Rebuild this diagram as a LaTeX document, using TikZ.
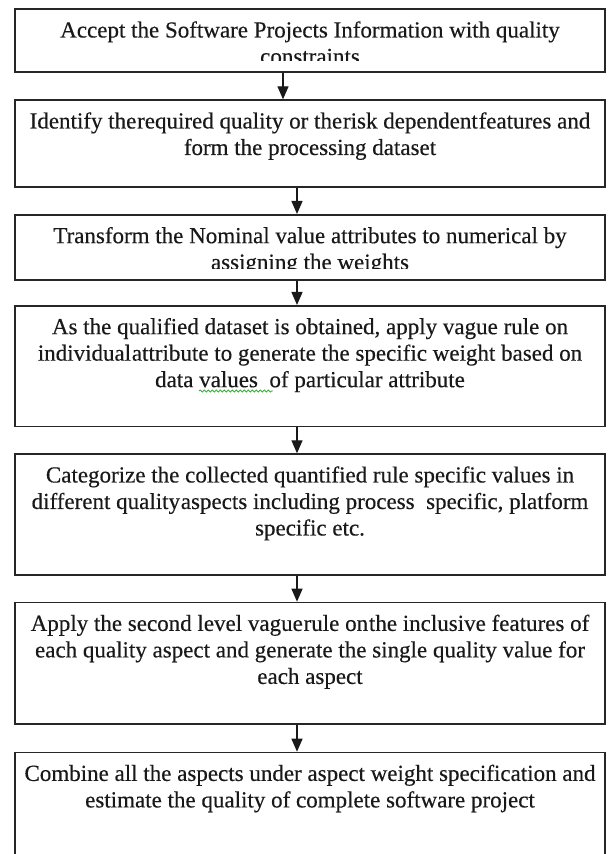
\documentclass[tikz,border=0pt]{standalone}
\usepackage{fontspec}
\setmainfont{Liberation Serif}[FakeBold=0.35]
\usetikzlibrary{arrows.meta,decorations.pathmorphing}
\newcommand{\tsp}{\hspace{0.8pt}}
\begin{document}
\begin{tikzpicture}[x=1pt,y=1pt,
  box/.style={draw=black!85, line width=1.6pt, minimum width=590pt, inner sep=0pt, anchor=north},
  txt/.style={inner sep=0pt, anchor=north, align=center, font=\fontsize{23}{26.5}\selectfont, text=black!90},
  arr/.style={draw=black!90, line width=1.3pt, -{Triangle[width=11pt,length=13pt]}},
  squig/.style={draw={rgb,255:red,60;green,175;blue,60}, line width=0.8pt,
    decorate, decoration={snake, segment length=4pt, amplitude=1.1pt}}
]
\clip (0,0) rectangle (611,854);
\fill[white] (0,0) rectangle (611,854);

% boxes
\node[box, minimum height=63pt]    (b1) at (310,845.7) {};
\node[box, minimum height=87.2pt]  (b2) at (310,754.7) {};
\node[box, minimum height=65pt]    (b3) at (310,640)   {};
\node[box, minimum height=120.7pt] (b4) at (310,549)   {};
\node[box, minimum height=120.7pt] (b5) at (310,400.7) {};
\node[box, minimum height=121.6pt] (b6) at (310,252.3) {};
\node[box, minimum height=140pt]   (b7) at (310,102.3) {};

% texts
\begin{scope}
  \clip ([yshift=-1pt]b1.north west) rectangle ([yshift=12pt]b1.south east);
  \node[txt] (t1) at ([yshift=-10.45pt]b1.north)
    {\strut Accept the Software Projects Information with quality\\ \strut constraints};
\end{scope}
\node[txt] (t2) at ([yshift=-10.45pt]b2.north)
  {\strut Identify the\tsp required quality or the\tsp risk dependent\tsp features\ and\\
   \strut form the processing dataset};
\begin{scope}
  \clip ([yshift=-1pt]b3.north west) rectangle ([yshift=12.3pt]b3.south east);
  \node[txt] (t3) at ([yshift=-10.45pt]b3.north)
    {\strut Transform the Nominal value attributes to numerical by\\ \strut assigning the weights};
\end{scope}
\node[txt] (t4) at ([yshift=-10.45pt]b4.north)
  {\strut As the qualified dataset is obtained, apply vague rule on\\
   \strut individual\tsp attribute to generate the specific weight based on\\
   \strut data values\ \ of particular attribute};
\node[txt] (t5) at ([yshift=-10.45pt]b5.north)
  {\strut Categorize the collected quantified rule specific values in\\
   \strut different quality\tsp aspects including process\ \ specific, platform\\
   \strut specific etc.};
\node[txt] (t6) at ([yshift=-10.45pt]b6.north)
  {\strut Apply the second level vague\tsp rule on\tsp the inclusive features\ of\\
   \strut each quality aspect and generate the single quality value for\\
   \strut each aspect};
\node[txt] (t7) at ([yshift=-10.45pt]b7.north)
  {\strut Combine all the aspects under aspect weight specification and\\
   \strut estimate the quality of complete software project};

% spelling mark under "values"
\coordinate (s1) at (199,463);
\coordinate (s2) at (273,463);
\draw[squig] (s1) -- (s2);

% arrows
\coordinate (ax1) at (283,0);
\coordinate (ax2) at (297,0);
\draw[arr] (b1.south -| ax1) -- (b2.north -| ax1);
\draw[arr] (b2.south -| ax2) -- (b3.north -| ax2);
\draw[arr] (b3.south -| ax2) -- (b4.north -| ax2);
\draw[arr] (b4.south -| ax2) -- (b5.north -| ax2);
\draw[arr] (b5.south -| ax2) -- (b6.north -| ax2);
\draw[arr] (b6.south -| ax2) -- (b7.north -| ax2);
\end{tikzpicture}
\end{document}
